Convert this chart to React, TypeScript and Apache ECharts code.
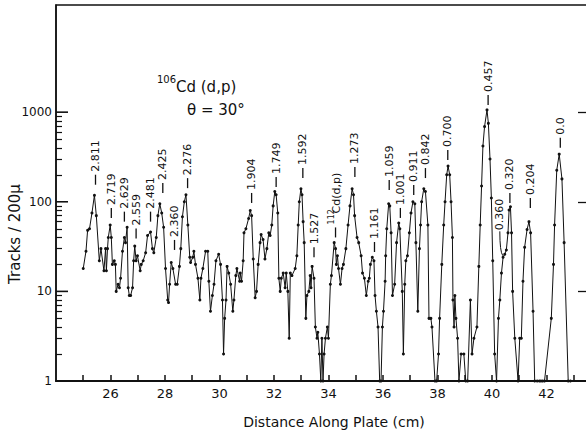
import React, { useEffect, useRef } from "react";
import * as echarts from "echarts";

// Distance along plate (cm) of each counted strip
const positionCm = [
  25.0, 25.1, 25.16, 25.23, 25.32, 25.41, 25.48, 25.59, 25.65, 25.76, 25.82, 25.85, 25.89, 25.92, 25.99,
  26.03, 26.07, 26.14, 26.18, 26.21, 26.28, 26.33, 26.37, 26.44, 26.51, 26.55, 26.61, 26.65, 26.69, 26.74,
  26.81, 26.85, 26.89, 26.94, 26.99, 27.09, 27.13, 27.2, 27.29, 27.36, 27.47, 27.54, 27.59, 27.68, 27.74,
  27.81, 27.88, 27.95, 28.02, 28.1, 28.13, 28.17, 28.23, 28.29, 28.39, 28.45, 28.53, 28.58, 28.64, 28.71,
  28.77, 28.84, 28.91, 28.94, 29.02, 29.06, 29.12, 29.21, 29.28, 29.32, 29.39, 29.49, 29.57, 29.61, 29.67,
  29.74, 29.8, 29.87, 29.97, 30.04, 30.11, 30.15, 30.19, 30.24, 30.28, 30.34, 30.41, 30.49, 30.53, 30.6,
  30.64, 30.74, 30.76, 30.81, 30.87, 30.9, 30.97, 31.07, 31.13, 31.18, 31.24, 31.31, 31.36, 31.42, 31.49,
  31.53, 31.6, 31.67, 31.74, 31.81, 31.86, 31.92, 31.97, 32.03, 32.08, 32.14, 32.18, 32.23, 32.27, 32.34,
  32.41, 32.45, 32.51, 32.56, 32.6, 32.66, 32.78, 32.84, 32.89, 32.93, 32.99, 33.03, 33.07, 33.11, 33.17,
  33.21, 33.28, 33.33, 33.36, 33.4, 33.47, 33.52, 33.58, 33.61, 33.67, 33.72, 33.76, 33.8, 33.84, 33.89,
  33.96, 34.0, 34.07, 34.11, 34.21, 34.26, 34.29, 34.33, 34.37, 34.44, 34.5, 34.55, 34.64, 34.72, 34.79,
  34.87, 34.92, 34.96, 35.05, 35.11, 35.2, 35.25, 35.32, 35.39, 35.46, 35.5, 35.54, 35.61, 35.67, 35.71,
  35.76, 35.82, 35.88, 35.93, 35.98, 36.02, 36.08, 36.1, 36.14, 36.21, 36.25, 36.3, 36.35, 36.43, 36.5,
  36.58, 36.62, 36.71, 36.75, 36.8, 36.84, 36.9, 36.97, 37.03, 37.1, 37.17, 37.21, 37.28, 37.34, 37.38,
  37.42, 37.5, 37.56, 37.65, 37.69, 37.76, 37.8, 37.91, 37.97, 38.04, 38.08, 38.16, 38.23, 38.28, 38.34,
  38.39, 38.45, 38.5, 38.55, 38.57, 38.61, 38.64, 38.68, 38.74, 38.79, 38.87, 38.97, 39.04, 39.11, 39.21,
  39.27, 39.34, 39.45, 39.52, 39.57, 39.62, 39.67, 39.73, 39.82, 39.87, 39.93, 39.98, 40.03, 40.1, 40.17,
  40.24, 40.29, 40.35, 40.41, 40.47, 40.53, 40.59, 40.63, 40.68, 40.72, 40.76, 40.84, 40.96, 41.02, 41.08,
  41.14, 41.2, 41.29, 41.36, 41.42, 41.51, 41.57, 41.66, 41.74, 41.8, 41.86, 41.93, 42.18, 42.26, 42.3,
  42.38, 42.47, 42.57, 42.65, 42.8, 42.88,
];

// Tracks per 200 micron strip
const tracks = [
  18, 28, 48, 50, 75, 118, 70, 22, 30, 17, 30, 17, 30, 40, 55,
  40, 20, 22, 20, 10, 12, 11, 14, 28, 40, 35, 52, 11, 9, 9,
  11, 22, 32, 22, 25, 17, 20, 22, 27, 42, 46, 30, 27, 40, 70,
  95, 75, 52, 18, 8, 7.5, 12, 21, 18, 12, 12, 19, 30, 68, 100,
  120, 55, 24, 21, 24, 28, 20, 14, 8, 14, 18, 28, 28, 13, 6,
  9, 12, 22, 26, 20, 8, 2, 5, 8, 19, 16, 12, 6, 8, 15,
  18, 13, 16, 13, 22, 45, 50, 65, 80, 70, 23, 8.5, 10, 20, 35,
  43, 38, 23, 30, 45, 42, 55, 90, 130, 120, 75, 14, 10, 14, 16,
  11, 16, 10, 3, 16, 15, 18, 25, 55, 100, 140, 120, 60, 35, 5,
  9, 10, 15, 11, 19, 14, 4, 3, 3.5, 2, 1, 3, 1, 2, 3,
  4, 3, 12, 15, 35, 30, 20, 25, 18, 12, 18, 20, 30, 55, 90,
  140, 120, 70, 40, 35, 25, 16, 14, 9, 13, 14, 20, 24, 22, 9,
  6, 4, 1, 1, 4, 6, 13, 25, 50, 95, 90, 45, 9, 12, 35,
  58, 50, 10, 2, 12, 22, 25, 45, 75, 100, 95, 35, 6, 30, 55,
  100, 140, 130, 55, 5, 5, 4, 1, 1, 2, 5, 20, 55, 100, 200,
  250, 200, 100, 40, 8, 4, 9, 5, 3, 1, 2, 2, 1, 1, 8,
  2, 3, 4, 19, 55, 150, 420, 690, 1060, 750, 300, 110, 22, 2, 1,
  5, 8, 16, 24, 26, 29, 45, 81, 88, 45, 10, 3, 1, 3, 3,
  13, 31, 49, 60, 45, 6, 1, 1, 1, 1, 1, 1, 5, 20, 55,
  225, 340, 180, 35, 1, 1,
];

const xTickValues = [25, 26, 27, 28, 29, 30, 31, 32, 33, 34, 35, 36, 37, 38, 39, 40, 41, 42, 43];
const xLabelValues = [26, 28, 30, 32, 34, 36, 38, 40, 42];
const yLabelValues = [1, 10, 100, 1000];
const yMinorValues = [2, 3, 4, 5, 6, 7, 8, 9, 20, 30, 40, 50, 60, 70, 80, 90, 200, 300, 400, 500, 600, 700, 800, 900];
const yRightValues = [10, 100, 1000];

// Excitation-energy labels of the peaks (MeV) and where their marks start
const peakNames = [
  "2.811", "2.719", "2.629", "2.559", "2.481", "2.425", "2.360", "2.276", "1.904", "1.749",
  "1.592", "1.527", "1.273", "1.161", "1.059", "1.001", "0.911", "0.842", "0.700", "0.457",
  "0.320", "0.204", "0.0",
];
const peakX = [
  25.45, 26.03, 26.51, 26.94, 27.47, 27.92, 28.35, 28.83, 31.18, 32.08,
  33.06, 33.47, 34.97, 35.69, 36.23, 36.64, 37.13, 37.56, 38.38, 39.86,
  40.66, 41.41, 42.51,
];
const peakY = [
  155, 66, 60, 39, 60, 125, 29, 142, 97, 146,
  184, 24, 189, 27.5, 135, 66, 119, 184, 293, 1200,
  97, 85, 400,
];
// 0.360 label with curved leader to its shoulder
const shoulderName = "0.360";
const shoulderLabelAt = [40.29, 48];
const shoulderPointAt = [40.4, 25];
// 112Cd(d,p) contaminant label
const contaminantMass = "112";
const contaminantName = "Cd(d,p)";
const contaminantAt = [34.26, 40];

const titleMass = "106";
const titleReaction = "Cd (d,p)";
const titleAngle = "θ = 30°";
const xTitle = "Distance Along Plate (cm)";
const yTitle = "Tracks / 200μ";

export default function App() {
  const ref = useRef<HTMLDivElement>(null);
  useEffect(() => {
    document.body.style.margin = "0";
    const chart = echarts.init(ref.current!, null, { renderer: "svg" });
    const font = "DejaVu Sans";
    const ink = "#111";
    const logAxis = (extra: any) => ({
      type: "log",
      logBase: 10,
      min: 1,
      max: 15700,
      splitLine: { show: false },
      ...extra,
    });
    chart.setOption({
      animation: false,
      backgroundColor: "#fff",
      grid: {
        left: 56,
        top: 5,
        width: 534,
        height: 376,
        show: true,
        borderColor: ink,
        borderWidth: 1.5,
        containLabel: false,
        outerBoundsMode: "none",
      },
      xAxis: [
        {
          type: "value",
          min: 24,
          max: 43.6,
          splitLine: { show: false },
          axisLine: { show: true, lineStyle: { color: ink, width: 2 } },
          axisTick: {
            show: true,
            inside: true,
            length: 6,
            customValues: xTickValues,
            lineStyle: { color: ink, width: 1.5 },
          },
          axisLabel: {
            customValues: xLabelValues,
            margin: 6,
            color: ink,
            fontSize: 13,
            fontFamily: font,
          },
        },
      ],
      yAxis: [
        logAxis({
          position: "left",
          axisLine: { show: true, lineStyle: { color: ink, width: 1.5 } },
          axisTick: {
            show: true,
            inside: true,
            length: 6,
            customValues: yMinorValues,
            lineStyle: { color: ink, width: 1.2 },
          },
          axisLabel: {
            customValues: yLabelValues,
            margin: 4,
            color: ink,
            fontSize: 12,
            fontFamily: font,
            formatter: (v: number) => String(Math.round(v)),
          },
        }),
        logAxis({
          position: "right",
          axisLine: { show: false },
          axisTick: {
            show: true,
            inside: true,
            length: 12,
            customValues: yRightValues,
            lineStyle: { color: ink, width: 1.3 },
          },
          axisLabel: { show: false },
        }),
      ],
      series: [
        {
          type: "line",
          xAxisIndex: 0,
          yAxisIndex: 0,
          data: positionCm.map((x, i) => [x, tracks[i]]),
          symbol: "circle",
          symbolSize: 3,
          showSymbol: true,
          lineStyle: { color: ink, width: 1 },
          itemStyle: { color: ink },
          clip: false,
        },
      ],
    });

    const toPx = (p: number[]) =>
      chart.convertToPixel({ xAxisIndex: 0, yAxisIndex: 0 }, p) as number[];
    const graphics: any[] = [];
    // major left-axis ticks, longer than the minor ones drawn by the axis
    const leftX = toPx([24, 1])[0];
    yLabelValues.forEach((v) => {
      const y = toPx([24, v])[1];
      graphics.push({
        type: "line",
        shape: { x1: leftX, y1: y, x2: leftX + 12, y2: y },
        style: { stroke: ink, lineWidth: 1.6 },
      });
    });

    const rotText = (x: number, y: number, text: string, size = 11) => ({
      type: "text",
      x,
      y,
      rotation: Math.PI / 2,
      style: {
        text,
        fill: ink,
        font: `${size}px "${font}"`,
        align: "left",
        verticalAlign: "middle",
      },
    });
    const dash = (x: number, y: number, len = 10) => ({
      type: "line",
      shape: { x1: x, y1: y, x2: x, y2: y - len },
      style: { stroke: ink, lineWidth: 1.3 },
    });
    peakNames.forEach((name, i) => {
      const [px, py] = toPx([peakX[i], peakY[i]]);
      graphics.push(dash(px, py));
      graphics.push(rotText(px, py - 13, name));
    });
    {
      const [tx, ty] = toPx(shoulderLabelAt);
      const [sx, sy] = toPx(shoulderPointAt);
      graphics.push(rotText(tx, ty, shoulderName));
      graphics.push({
        type: "bezierCurve",
        shape: { x1: tx, y1: ty + 1, x2: sx, y2: sy, cpx1: tx, cpy1: sy - 4 },
        style: { stroke: ink, lineWidth: 1, fill: "none" },
      });
    }
    {
      const [cx, cy] = toPx(contaminantAt);
      graphics.push(dash(cx, cy));
      graphics.push(rotText(cx - 4, cy - 13, contaminantMass, 8));
      graphics.push(rotText(cx + 1, cy - 24, contaminantName));
    }
    graphics.push({
      type: "text",
      x: 157,
      y: 79,
      style: { text: titleMass, fill: ink, font: `10px "${font}"`, align: "left", verticalAlign: "middle" },
    });
    graphics.push({
      type: "text",
      x: 176,
      y: 87,
      style: { text: titleReaction, fill: ink, font: `15px "${font}"`, align: "left", verticalAlign: "middle" },
    });
    graphics.push({
      type: "text",
      x: 187,
      y: 110,
      style: { text: titleAngle, fill: ink, font: `15px "${font}"`, align: "left", verticalAlign: "middle" },
    });
    graphics.push({
      type: "text",
      x: 334,
      y: 422,
      style: { text: xTitle, fill: ink, font: `14px "${font}"`, align: "center", verticalAlign: "middle" },
    });
    graphics.push({
      type: "text",
      x: 15,
      y: 234,
      rotation: Math.PI / 2,
      style: { text: yTitle, fill: ink, font: `15px "${font}"`, align: "center", verticalAlign: "middle" },
    });
    chart.setOption({ graphic: graphics });
    return () => chart.dispose();
  }, []);
  return (
    <div
      ref={ref}
      style={{ position: "absolute", left: 0, top: 0, width: 586, height: 434 }}
    />
  );
}
